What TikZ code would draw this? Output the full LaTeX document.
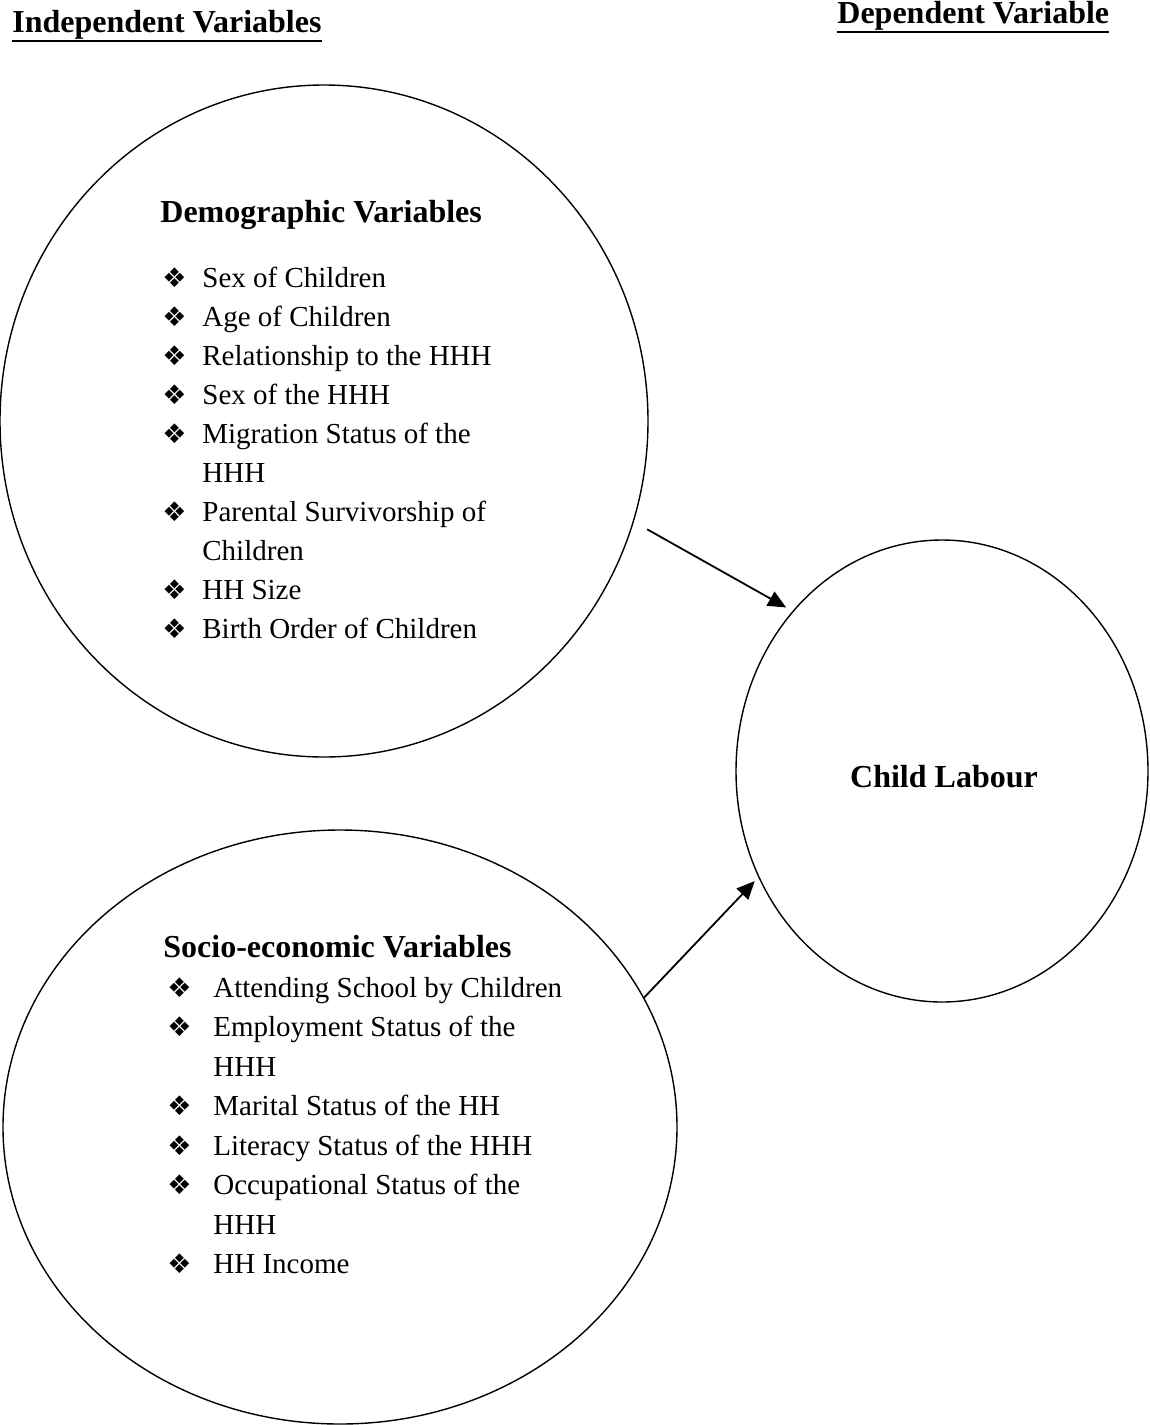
\documentclass[tikz,border=0pt]{standalone}
\usepackage{fontspec}
\setmainfont{Liberation Serif}
\newfontfamily\dingfont{DejaVu Sans}
\usetikzlibrary{arrows.meta,positioning,shapes.geometric}

\newcommand{\itm}[1]{\makebox[#1][l]{\dingfont\fontsize{13.5}{13.5}\selectfont ❖}}
\newcommand{\ulhead}[1]{\setbox0\hbox{#1}\rlap{\copy0}\rule[-5pt]{\wd0}{1pt}}

\begin{document}
\begin{tikzpicture}[x=0.5pt, y=-0.5pt,
    every node/.style={font=\fontsize{14.5}{19.5}\selectfont},
    blob/.style={draw, ellipse, line width=0.7pt, inner sep=0pt, outer sep=0pt},
    head/.style={anchor=base west, inner sep=0pt, font=\fontsize{16}{18}\selectfont\bfseries},
    link/.style={-{Triangle[length=9pt,width=8pt]}, line width=0.9pt}]
    \useasboundingbox (0,0) rectangle (1150,1425);

    % titles
    \node[head] (indep) at (12,32) {\ulhead{Independent Variables}};
    \node[head] (dep) at (837,23) {\ulhead{Dependent Variable}};

    % the three circles
    \node[blob, minimum width=324pt, minimum height=336pt] (demo) at (324,421) {};
    \node[blob, minimum width=337pt, minimum height=297pt] (socio) at (340,1127) {};
    \node[blob, minimum width=206pt, minimum height=231pt] (labour) at (942,771) {};

    \node[head] (demohead) at (160,222) {Demographic Variables};
    \node[anchor=base west, inner sep=0pt] (demolist) at (162,287) {%
      \begin{tabular}[t]{@{}l@{}l@{}}
        \itm{20pt} & Sex of Children\\
        \itm{20pt} & Age of Children\\
        \itm{20pt} & Relationship to the HHH\\
        \itm{20pt} & Sex of the HHH\\
        \itm{20pt} & Migration Status of the\\
                   & HHH\\
        \itm{20pt} & Parental Survivorship of\\
                   & Children\\
        \itm{20pt} & HH Size\\
        \itm{20pt} & Birth Order of Children
      \end{tabular}};

    \node[head] (sociohead) at (163,957) {Socio-economic Variables};
    \node[anchor=base west, inner sep=0pt, font=\fontsize{14.5}{19.75}\selectfont] (sociolist) at (167,997) {%
      \begin{tabular}[t]{@{}l@{}l@{}}
        \itm{23pt} & Attending School by Children\\
        \itm{23pt} & Employment Status of the\\
                   & HHH\\
        \itm{23pt} & Marital Status of the HH\\
        \itm{23pt} & Literacy Status of the HHH\\
        \itm{23pt} & Occupational Status of the\\
                   & HHH\\
        \itm{23pt} & HH Income
      \end{tabular}};

    \node[head, anchor=base] (labourtext) at (944,787) {Child Labour};

    \draw[link, shorten <=8pt, shorten >=4pt] (demo.-18) -- (labour.133);
    \draw[link, shorten >=3pt] (socio.23) -- (labour.210);
\end{tikzpicture}
\end{document}
